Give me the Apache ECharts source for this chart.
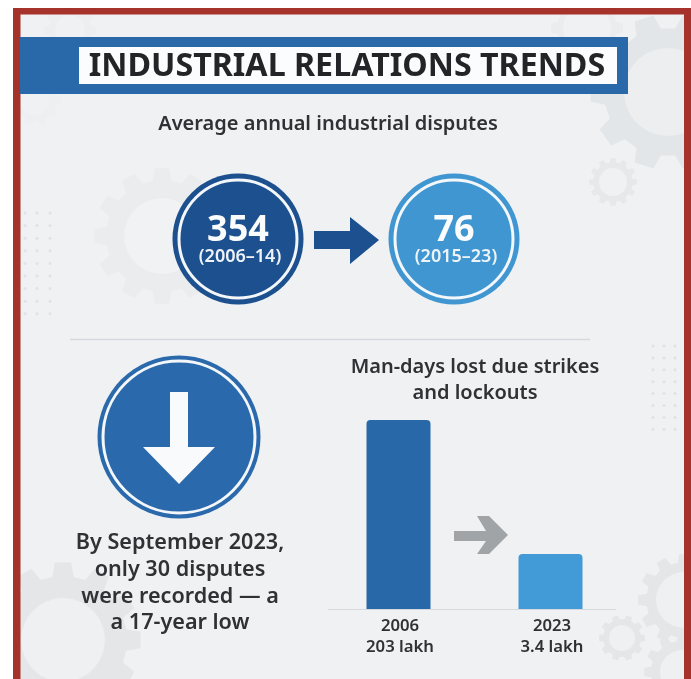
<!DOCTYPE html>
<html>
<head>
<meta charset="utf-8">
<style>html,body{margin:0;padding:0;background:#fff}#chart{width:691px;height:679px}</style>
<script src="https://cdn.jsdelivr.net/npm/echarts@6/dist/echarts.min.js"></script>
</head>
<body>
<div id="chart"></div>
<script>
// Man-days lost, in lakh
const years = ['2006', '2023'];
const manDaysLost = [203, 3.4];
const manDaysLabels = ['203 lakh', '3.4 lakh'];
const barColors = ['#2868a8', '#429ad6'];

// Average annual disputes per period
const disputeAverages = [354, 76];
const disputePeriods = ['(2006\u201314)', '(2015\u201323)'];

const titleText = 'INDUSTRIAL RELATIONS TRENDS';
const subtitleText = 'Average annual industrial disputes';
const noteLines = ['By September 2023,', 'only 30 disputes', 'were recorded \u2014 a', 'a 17-year low'];
const barTitleLines = ['Man-days lost due strikes', 'and lockouts'];

const FONT = '"Noto Sans", sans-serif';
const PANEL = '#eff1f3';
const INK = '#2f3134';
const AXIS_FLOOR = 0.635;

// Toothed outline for the decorative background cogs
function cog(cx, cy, r, teeth, colour, holeR, holeColour) {
  const pts = [];
  const inner = r * 0.82;
  const step = Math.PI * 2 / teeth;
  for (let i = 0; i < teeth; i++) {
    const a = i * step;
    [[-0.32, inner], [-0.2, r], [0.2, r], [0.32, inner]].forEach(([k, rad]) => {
      pts.push([cx + rad * Math.cos(a + k * step), cy + rad * Math.sin(a + k * step)]);
    });
  }
  return [
    { type: 'polygon', z: 0, silent: true, shape: { points: pts }, style: { fill: colour } },
    { type: 'circle', z: 0, silent: true, shape: { cx, cy, r: holeR }, style: { fill: holeColour } }
  ];
}

function dotGrid(xs, y0, dy, rows) {
  const out = [];
  for (let j = 0; j < rows; j++) {
    xs.forEach(x => out.push({
      type: 'circle', z: 0, silent: true,
      shape: { cx: x, cy: y0 + j * dy, r: 1.5 }, style: { fill: '#e0e2e5' }
    }));
  }
  return out;
}

function rect(x, y, width, height, fill, z) {
  return { type: 'rect', z: z, silent: true, shape: { x, y, width, height }, style: { fill } };
}

function text(str, x, y, size, weight, fill) {
  return {
    type: 'text', z: 5, silent: true, x, y,
    style: { text: str, fontFamily: FONT, fontSize: size, fontWeight: weight, fill, align: 'center', verticalAlign: 'middle' }
  };
}

function badge(cx, cy, r, fill, value, period) {
  return [
    { type: 'circle', z: 3, silent: true, shape: { cx, cy, r }, style: { fill } },
    { type: 'circle', z: 4, silent: true, shape: { cx, cy, r: r - 6.5 }, style: { fill: 'none', stroke: '#f4f7fa', lineWidth: 3 } },
    text(String(value), cx, cy - 8, 36, 700, '#fbfcfd'),
    text(period, cx + 2, cy + 18, 18, 600, '#eef3f8')
  ];
}

const elements = [
  rect(13, 8, 678, 671, PANEL, -1),
  ...cog(668, 92, 78, 10, '#e3e6e8', 44, '#eceef0'),
  ...cog(587, 28, 36, 10, '#eaecee', 24, '#eff1f2'),
  ...cog(613, 182, 24, 12, '#e6e8ea', 14, PANEL),
  ...cog(70, 30, 26, 10, '#ecEEF0', 15, '#eff1f2'),
  ...cog(35, 100, 26, 10, '#edeff1', 15, PANEL),
  ...cog(162, 236, 68, 12, '#eaecee', 38, '#f0f2f3'),
  ...cog(63, 640, 78, 12, '#e4e6e8', 42, '#eef0f2'),
  ...cog(684, 600, 46, 12, '#e4e6e8', 28, '#eef0f2'),
  ...cog(622, 638, 23, 10, '#e4e6e8', 13, '#eef0f2'),
  ...cog(682, 672, 38, 12, '#e4e6e8', 22, '#eef0f2'),
  ...dotGrid([25, 37, 50], 213, 12.6, 9),
  ...dotGrid([653, 664, 675], 346, 11.9, 8),

  // page margin and red frame
  rect(0, 0, 691, 8, '#ffffff', 1),
  rect(0, 0, 13, 679, '#ffffff', 1),
  rect(13, 8, 678, 6.5, '#a5332c', 1),
  rect(13, 8, 7.5, 671, '#a5332c', 1),
  rect(684, 8, 7, 671, '#a5332c', 1),

  // heading band
  rect(20, 37, 608, 57, '#2a69a9', 3),
  rect(79, 47, 538, 37, '#fbfcfd', 4),
  text(titleText, 347, 67, 32.2, 700, '#222427'),
  text(subtitleText, 328, 124, 20, 600, INK),

  // period badges and the arrow between them
  ...badge(238, 239, 65.5, '#1c508e', disputeAverages[0], disputePeriods[0]),
  ...badge(454, 239, 65.5, '#3f96d1', disputeAverages[1], disputePeriods[1]),
  {
    type: 'polygon', z: 3, silent: true,
    shape: { points: [[314, 231], [350, 231], [350, 217], [379, 240], [350, 264], [350, 249], [314, 249]] },
    style: { fill: '#1c508e' }
  },

  { type: 'line', z: 3, silent: true, shape: { x1: 70, y1: 339.5, x2: 590, y2: 339.5 }, style: { stroke: '#d6d9dd', lineWidth: 1.5 } },

  // downward marker
  { type: 'circle', z: 3, silent: true, shape: { cx: 179, cy: 437, r: 81.5 }, style: { fill: '#2a69ab' } },
  { type: 'circle', z: 4, silent: true, shape: { cx: 179, cy: 437, r: 76 }, style: { fill: 'none', stroke: '#f4f7fa', lineWidth: 3 } },
  {
    type: 'polygon', z: 4, silent: true,
    shape: { points: [[170, 392], [188, 392], [188, 447], [215, 447], [179, 484], [143, 447], [170, 447]] },
    style: { fill: '#f9fafb' }
  },
  ...noteLines.map((line, i) => text(line, 180, 543 + i * 26.7, 21.6, 600, INK)),

  // bar panel heading, grey arrow and baseline
  ...barTitleLines.map((line, i) => text(line, 475, 367 + i * 26, 20, 600, INK)),
  {
    type: 'polygon', z: 3, silent: true,
    shape: { points: [[454, 531], [486, 531], [477, 516], [489, 516], [508, 535], [489, 554], [477, 554], [486, 541], [454, 541]] },
    style: { fill: '#a1a4a7' }
  },
  { type: 'line', z: 3, silent: true, shape: { x1: 328, y1: 609.5, x2: 616, y2: 609.5 }, style: { stroke: '#d5d8dc', lineWidth: 1.2 } }
];

const chart = echarts.init(document.getElementById('chart'), null, { renderer: 'canvas' });
chart.setOption({
  animation: false,
  backgroundColor: '#ffffff',
  graphic: { elements },
  grid: { left: 322.5, width: 304, top: 420, height: 189, containLabel: false },
  xAxis: {
    type: 'category',
    data: years,
    z: 6,
    axisLine: { show: false },
    axisTick: { show: false },
    axisLabel: {
      margin: 7,
      interval: 0,
      padding: [0, 0, 0, 3],
      fontFamily: FONT,
      fontSize: 16.7,
      fontWeight: 600,
      color: INK,
      lineHeight: 21,
      formatter: (v, i) => v + '\n' + manDaysLabels[i]
    }
  },
  // Log scale keeps the 3.4 lakh bar legible next to the 203 lakh one
  yAxis: { type: 'log', min: AXIS_FLOOR, max: 203, show: false, splitLine: { show: false } },
  series: [{
    // Bars rise from the axis floor, which a plain log-axis bar cannot do
    type: 'custom',
    z: 6,
    silent: true,
    encode: { x: 0, y: 1 },
    data: manDaysLost.map((value, i) => [i, value]),
    renderItem(params, api) {
      const i = api.value(0);
      const top = api.coord([i, api.value(1)]);
      const base = api.coord([i, AXIS_FLOOR]);
      const width = 64;
      return {
        type: 'rect',
        shape: { x: top[0] - width / 2, y: top[1], width, height: base[1] - top[1], r: [4, 4, 0, 0] },
        style: { fill: barColors[i] }
      };
    }
  }]
});
</script>
</body>
</html>
